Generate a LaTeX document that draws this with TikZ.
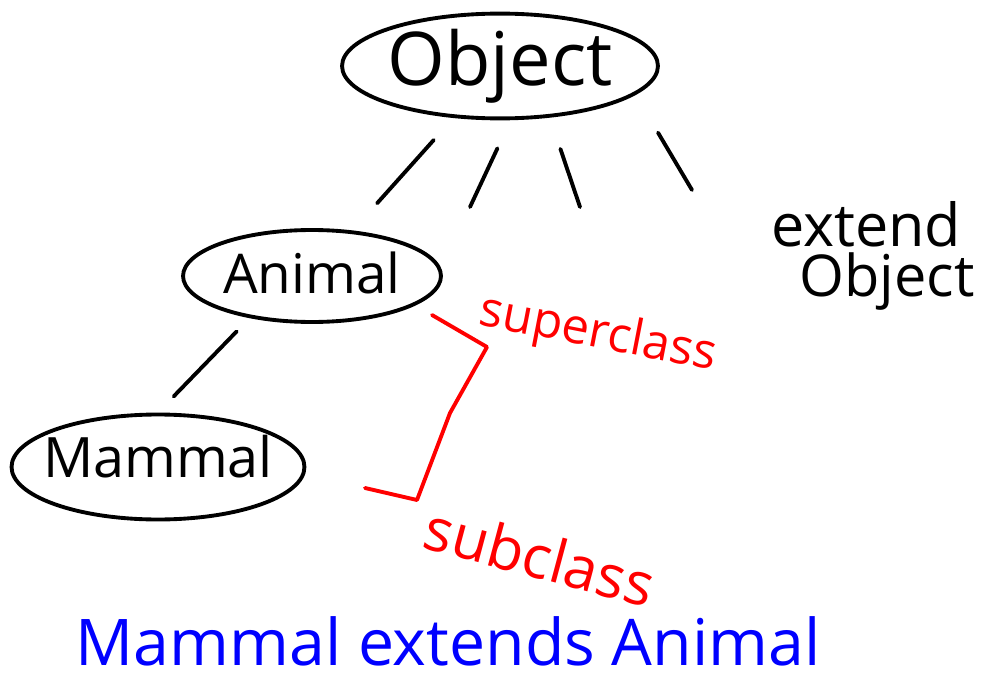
\documentclass[tikz,border=0pt]{standalone}
\usepackage{fontspec}
\setmainfont{Open Sans}
\usepackage{graphicx}
\usetikzlibrary{shapes.geometric}
\newcommand{\hw}[2]{\resizebox{#1}{!}{#2}}

\begin{document}
\begin{tikzpicture}[x=0.02cm, y=-0.02cm, line width=2.2pt, line cap=round, line join=round,
  cls/.style={draw, ellipse, inner sep=0pt},
  note/.style={inner sep=0pt}]
\useasboundingbox (0,0) rectangle (991,679);
% class tree
\node [cls, minimum width=6.32cm, minimum height=1.94cm] (obj) at (500,66) {\makebox[3.5cm]{\hw{4.5cm}{Object}}};
\node [cls, minimum width=5.16cm, minimum height=1.84cm] (ani) at (312,276) {\makebox[3cm]{\raisebox{4pt}{\hw{3.55cm}{Animal}}}};
\node [cls, minimum width=5.86cm, minimum height=2.1cm] (mam) at (158,467) {\makebox[3cm]{\raisebox{12pt}{\hw{4.6cm}{Mammal}}}};
\coordinate (c2) at (470,207);
\coordinate (c3) at (580,207);
\coordinate (c4) at (692,190);
\draw [shorten <=0.59cm, shorten >=0.73cm] (obj) -- (ani);
\draw [shorten <=0.37cm, shorten >=0.45cm] (ani.214) -- (mam.north);
\draw [shorten <=0.62cm] (obj.281) -- (c2);
\draw [shorten <=0.66cm] (obj.314) -- (c3);
\draw [shorten <=0.88cm] (obj.348) -- (c4);
\node [note] (ext) at (866,224) {\hw{3.8cm}{extend}};
\node [note] (extobj) at (887,282) {\hw{3.5cm}{Object}};
% super / sub
\draw [red] (432,315) -- (487,347) -- (450,413) -- (417,500) -- (365,488);
\node [note, red, rotate=-11] (sup) at (598,335) {\hw{4.8cm}{superclass}};
\node [note, red, rotate=-15] (sub) at (540,556) {\hw{4.7cm}{subclass}};
\node [note, blue] (cap) at (448,641) {\hw{14.9cm}{Mammal extends Animal}};
\end{tikzpicture}
\end{document}
